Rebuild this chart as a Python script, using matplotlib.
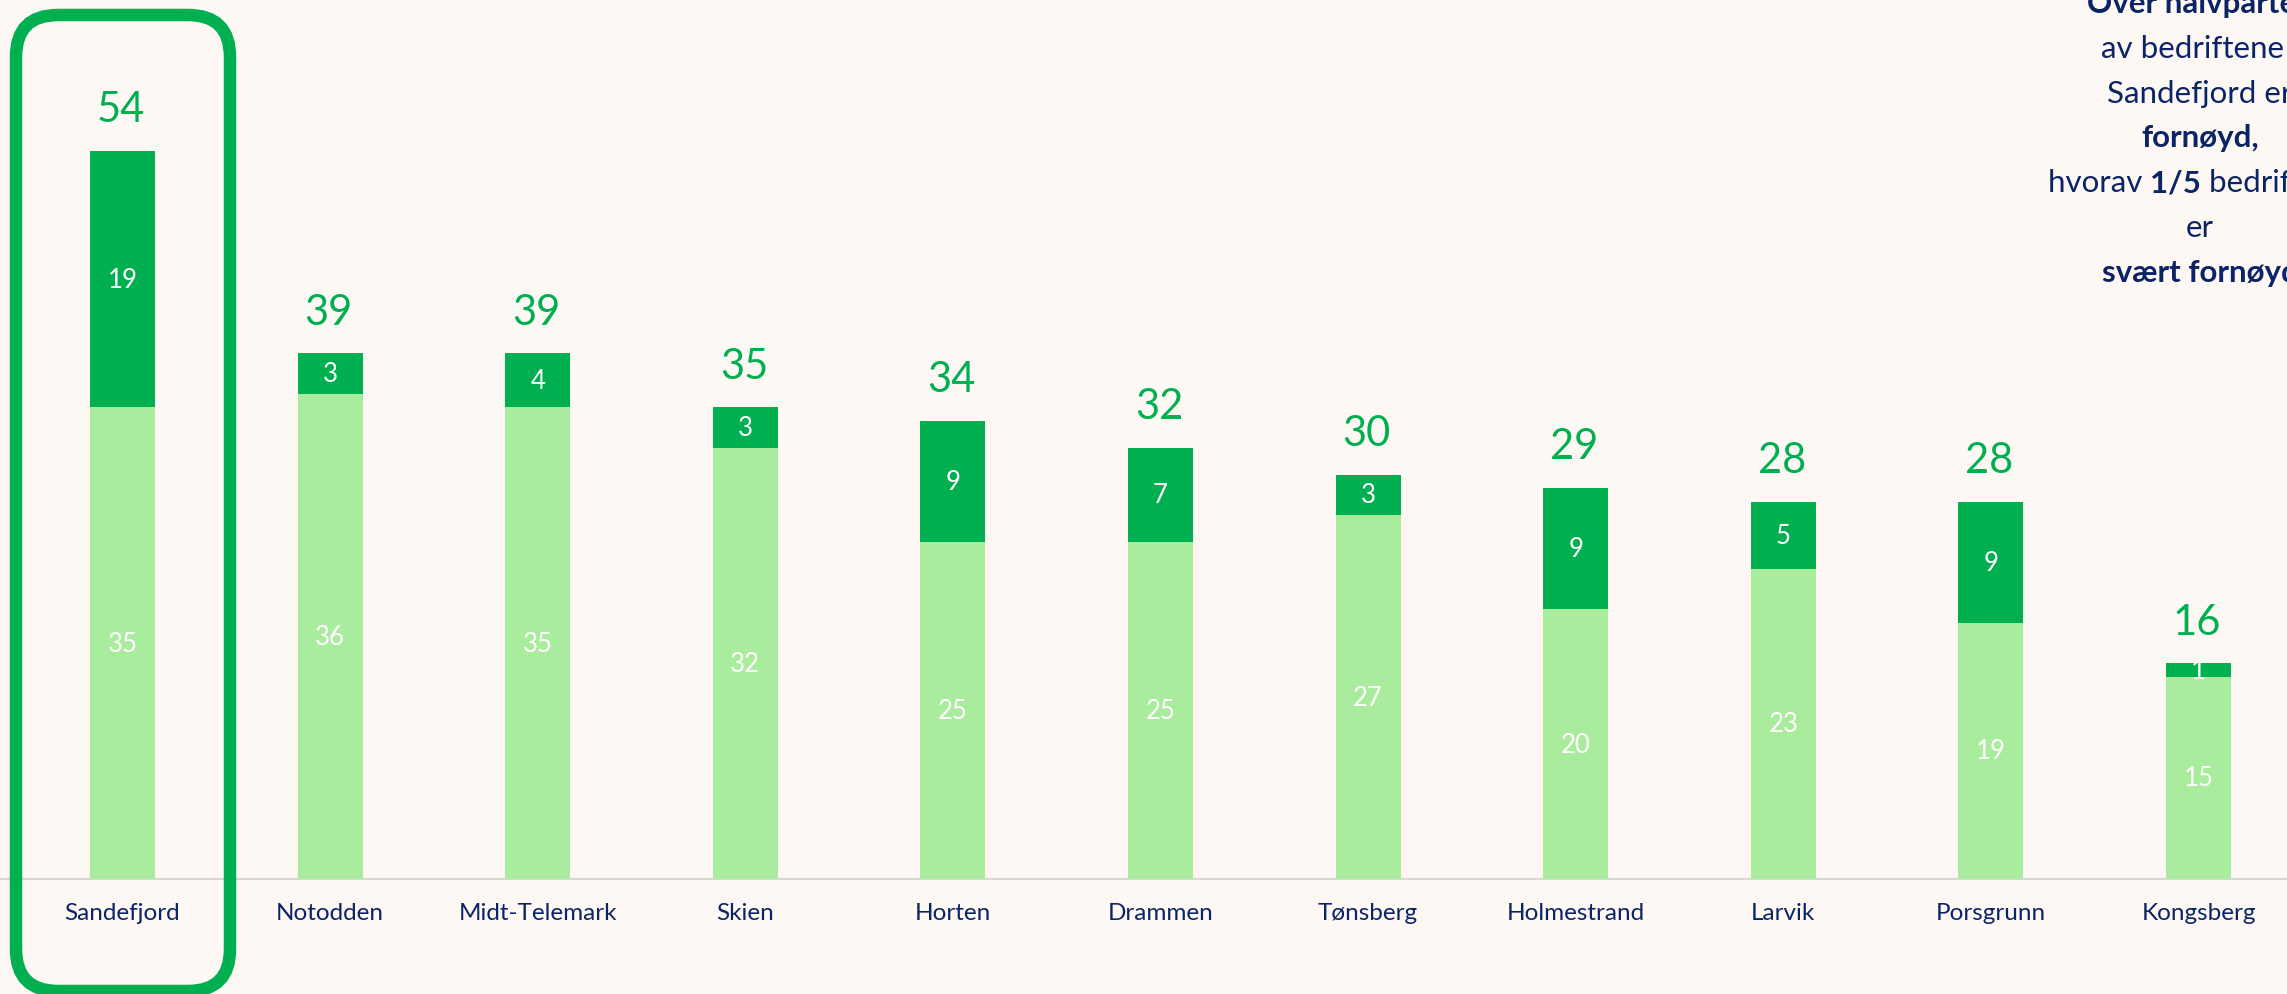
import matplotlib.pyplot as plt
import numpy as np
from matplotlib.patches import FancyBboxPatch
from matplotlib.transforms import IdentityTransform

plt.rcParams['font.family'] = ['Lato', 'DejaVu Sans']

kommuner = ['Sandefjord', 'Notodden', 'Midt-Telemark', 'Skien', 'Horten', 'Drammen',
            'Tønsberg', 'Holmestrand', 'Larvik', 'Porsgrunn', 'Kongsberg']
fornoyd = [35, 36, 35, 32, 25, 25, 27, 20, 23, 19, 15]
svaert_fornoyd = [19, 3, 4, 3, 9, 7, 3, 9, 5, 9, 1]

bg = '#FDF8F4'
lys = '#A9EC9D'
mork = '#00B050'
navy = '#0B2466'

W, H, dpi = 2287, 995, 100
fig = plt.figure(figsize=(W / dpi, H / dpi), dpi=dpi, facecolor=bg)
ax = fig.add_axes([0, 0, 1, 1])
ax.set_facecolor(bg)

x = np.arange(len(kommuner))
fornoyd = np.array(fornoyd)
svaert_fornoyd = np.array(svaert_fornoyd)
totals = fornoyd + svaert_fornoyd

ax.bar(x, fornoyd, width=0.313, color=lys, zorder=2)
ax.bar(x, svaert_fornoyd, bottom=fornoyd, width=0.313, color=mork, zorder=2)

# pixel scale: baseline at 880 px from top, 13.48 px per unit, bar spacing 207.6 px
ppu = 13.48
ax.set_ylim(-(H - 880) / ppu, 880 / ppu)
ax.set_xlim(-122.5 / 207.6, (W - 122.5) / 207.6)
ax.axis('off')
ax.axhline(0, color='#D9D6D3', lw=1.6, zorder=1)

for i in range(len(x)):
    ax.text(x[i], fornoyd[i] / 2, str(fornoyd[i]), ha='center', va='center',
            color='white', fontsize=18.5, zorder=3)
    ax.text(x[i], fornoyd[i] + svaert_fornoyd[i] / 2, str(svaert_fornoyd[i]),
            ha='center', va='center', color='white', fontsize=18.5, zorder=3)
    ax.annotate(str(totals[i]), (x[i], totals[i]), xytext=(-1, 30),
                textcoords='offset points', ha='center', va='center',
                color=mork, fontsize=30)
    ax.annotate(kommuner[i], (x[i], 0), xytext=(0, -24), textcoords='offset points',
                ha='center', va='center', color=navy, fontsize=17.5)

# highlight box around Sandefjord
box = FancyBboxPatch((16, H - 992), 214, 976, boxstyle='round,pad=0,rounding_size=42',
                     transform=IdentityTransform(), fill=False, edgecolor=mork,
                     linewidth=9, zorder=5)
fig.patches.append(box)

# comment text on the right, line by line (some parts bold)
lines = [
    [('Over halvparten', 'bold')],
    [('av bedriftene i', 'normal')],
    [('Sandefjord er', 'normal')],
    [('fornøyd,', 'bold')],
    [('hvorav ', 'normal'), ('1/5', 'bold'), (' bedriftene', 'normal')],
    [('er', 'normal')],
    [('svært fornøyd', 'bold')],
]
cx = 2200
base0 = 13
lh = 44.8
fs = 22.5
renderer = fig.canvas.get_renderer()
for k, parts in enumerate(lines):
    y_px = H - (base0 + k * lh)
    texts = []
    for s, wgt in parts:
        t = fig.text(0, y_px / H, s, fontsize=fs, fontweight=wgt, color=navy,
                     ha='left', va='baseline')
        texts.append(t)
    widths = [t.get_window_extent(renderer).width for t in texts]
    left = cx - sum(widths) / 2
    for t, w in zip(texts, widths):
        t.set_x(left / W)
        left += w

fig.savefig('out.png', dpi=dpi, facecolor=bg)
